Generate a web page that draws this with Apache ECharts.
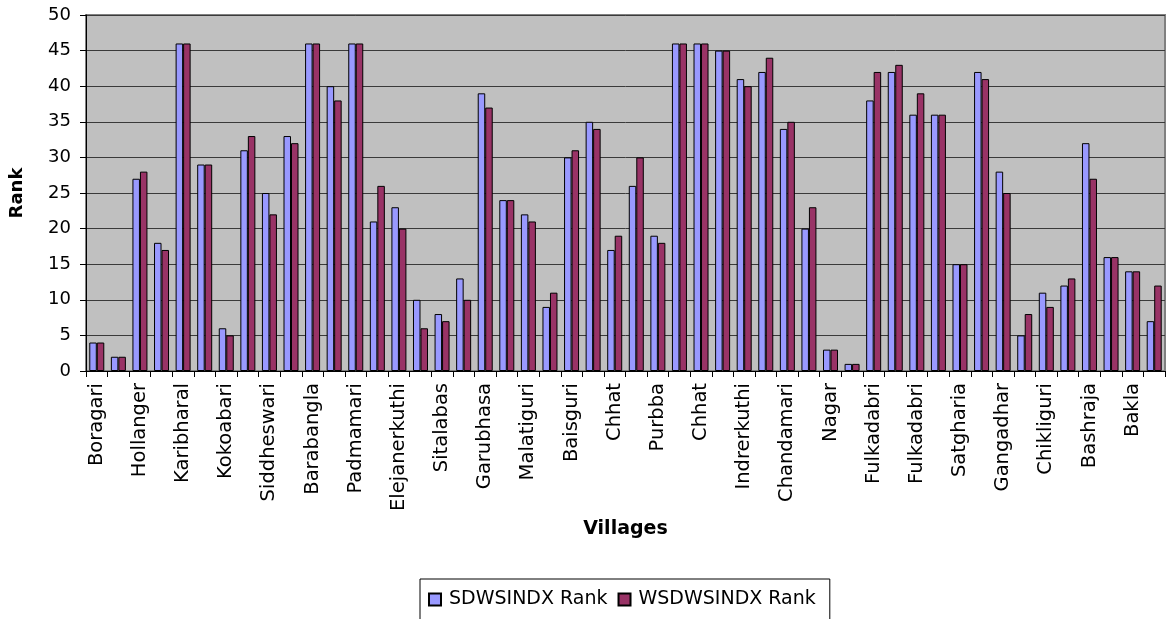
<!DOCTYPE html>
<html>
<head>
<meta charset="utf-8">
<script src="https://cdn.jsdelivr.net/npm/echarts@6/dist/echarts.min.js"></script>
<style>
html,body{margin:0;padding:0;background:#fff;}
#c{width:1166px;height:619px;}
</style>
</head>
<body>
<div id="c"></div>
<script>
// 50 villages; only every other name is printed on the axis in the original
const villages = [
  "Boragari","", "Hollanger","", "Karibharal","", "Kokoabari","", "Siddheswari","",
  "Barabangla","", "Padmamari","", "Elejanerkuthi","", "Sitalabas","", "Garubhasa","",
  "Malatiguri","", "Baisguri","", "Chhat","", "Purbba","", "Chhat","",
  "Indrerkuthi","", "Chandamari","", "Nagar","", "Fulkadabri","", "Fulkadabri","",
  "Satgharia","", "Gangadhar","", "Chikliguri","", "Bashraja","", "Bakla",""
];
const sdwsRank = [
  4, 2, 27, 18, 46, 29, 6, 31, 25, 33,
  46, 40, 46, 21, 23, 10, 8, 13, 39, 24,
  22, 9, 30, 35, 17, 26, 19, 46, 46, 45,
  41, 42, 34, 20, 3, 1, 38, 42, 36, 36,
  15, 42, 28, 5, 11, 12, 32, 16, 14, 7
];
const wsdwsRank = [
  4, 2, 28, 17, 46, 29, 5, 33, 22, 32,
  46, 38, 46, 26, 20, 6, 7, 10, 37, 24,
  21, 11, 31, 34, 19, 30, 18, 46, 46, 45,
  40, 44, 35, 23, 3, 1, 42, 43, 39, 36,
  15, 41, 25, 8, 9, 13, 27, 16, 14, 12
];
const seriesNames = ["SDWSINDX Rank", "WSDWSINDX Rank"];
const yTicks = {min: 0, max: 50, interval: 5};

const FONT = "DejaVu Sans";
const chart = echarts.init(document.getElementById('c'), null, {renderer: 'canvas'});
chart.setOption({
  animation: false,
  backgroundColor: '#ffffff',
  textStyle: {fontFamily: FONT},
  grid: {
    left: 86, right: 1, top: 15, bottom: 248,
    show: true, backgroundColor: '#C0C0C0', borderColor: '#808080', borderWidth: 2
  },
  legend: {
    left: 420, top: 579,
    padding: [11, 14, 14, 8],
    borderColor: '#000', borderWidth: 1,
    itemWidth: 12, itemHeight: 12, itemGap: 10,
    icon: 'rect',
    textStyle: {fontFamily: FONT, fontSize: 19, color: '#000', padding: [0, 0, 0, 3]},
    data: seriesNames
  },
  xAxis: {
    type: 'category',
    data: villages,
    name: 'Villages',
    nameLocation: 'middle',
    nameGap: 149,
    nameTextStyle: {fontFamily: FONT, fontSize: 19, fontWeight: 'bold', color: '#000'},
    axisLine: {lineStyle: {color: '#000', width: 1}},
    axisTick: {show: true, interval: 0, length: 6, lineStyle: {color: '#000'}},
    axisLabel: {
      interval: 1, rotate: 90, margin: 12,
      fontFamily: FONT, fontSize: 19.5, color: '#000'
    },
    splitLine: {show: false}
  },
  yAxis: {
    type: 'value',
    min: yTicks.min, max: yTicks.max, interval: yTicks.interval,
    name: 'Rank',
    nameLocation: 'middle',
    nameRotate: 90,
    nameGap: 60,
    nameTextStyle: {fontFamily: FONT, fontSize: 18, fontWeight: 'bold', color: '#000'},
    axisLine: {show: true, lineStyle: {color: '#000', width: 1}},
    axisTick: {show: true, length: 6, lineStyle: {color: '#000'}},
    axisLabel: {margin: 15, fontFamily: FONT, fontSize: 18, color: '#000'},
    splitLine: {show: true, lineStyle: {color: '#3a3a3a', width: 1}}
  },
  series: [
    {
      name: seriesNames[0], type: 'bar', data: sdwsRank,
      barWidth: 7.5, barGap: '0%',
      itemStyle: {color: '#9999FF', borderColor: '#000', borderWidth: 1}
    },
    {
      name: seriesNames[1], type: 'bar', data: wsdwsRank,
      barWidth: 7.5, barGap: '0%',
      itemStyle: {color: '#993366', borderColor: '#000', borderWidth: 1}
    }
  ]
});
</script>
</body>
</html>
